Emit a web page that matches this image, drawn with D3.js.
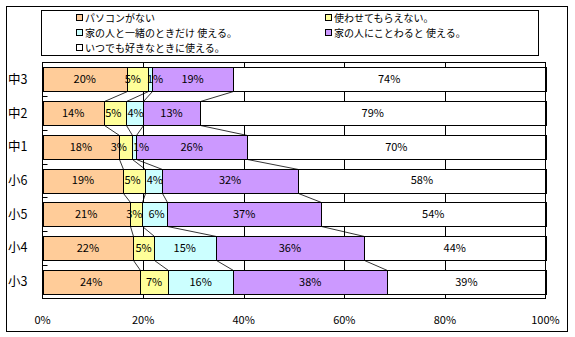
<!DOCTYPE html>
<html>
<head>
<meta charset="utf-8">
<script src="https://cdn.jsdelivr.net/npm/d3@7"></script>
<style>
  html, body { margin: 0; padding: 0; background: #fff; }
  svg { display: block; }
  text { font-family: "Noto Sans CJK JP", "Noto Sans", sans-serif; fill: #000; }
</style>
</head>
<body>
<svg id="chart" width="575" height="337"></svg>
<script>
// ---- data (top to bottom as displayed) ----
const categories = ["中3", "中2", "中1", "小6", "小5", "小4", "小3"];
const seriesNames = [
  "パソコンがない",
  "使わせてもらえない。",
  "家の人と一緒のときだけ 使える。",
  "家の人にことわると 使える。",
  "いつでも好きなときに使える。"
];
const noPC        = [20, 14, 18, 19, 21, 22, 24];
const notAllowed  = [5, 5, 3, 5, 3, 5, 7];
const withFamily  = [1, 4, 1, 4, 6, 15, 16];
const askFamily   = [19, 13, 26, 32, 37, 36, 38];
const anytime     = [74, 79, 70, 58, 54, 44, 39];
const xTicks = [0, 0.2, 0.4, 0.6, 0.8, 1.0];
const colors = ["#FFCC99", "#FFFF99", "#CCFFFF", "#CC99FF", "#FFFFFF"];

const seriesValues = [noPC, notAllowed, withFamily, askFamily, anytime];
const keys = seriesNames;
const rows = categories.map((c, i) => {
  const r = { cat: c };
  keys.forEach((k, s) => r[k] = seriesValues[s][i]);
  return r;
});

const svg = d3.select("#chart");

// outer frame
svg.append("rect").attr("x", 6.5).attr("y", 6.5).attr("width", 561).attr("height", 325)
  .attr("fill", "#fff").attr("stroke", "#000").attr("stroke-width", 1);

// scales
const plot = { left: 42.5, right: 545.5, top: 62.5, bottom: 298.5 };
const x = d3.scaleLinear().domain([0, 1]).range([plot.left, plot.right]);
const y = d3.scaleBand().domain(categories).range([plot.top, plot.bottom])
  .paddingInner(0.29).paddingOuter(0.145);
const stack = d3.stack().keys(keys).offset(d3.stackOffsetExpand);
const stacked = stack(rows);

// plot background
svg.append("rect").attr("x", plot.left).attr("y", plot.top)
  .attr("width", plot.right - plot.left).attr("height", plot.bottom - plot.top)
  .attr("fill", "#fff");

// vertical gridlines
svg.append("g").selectAll("line").data(xTicks.slice(1, -1)).join("line")
  .attr("x1", d => Math.round(x(d)) + 0.5).attr("x2", d => Math.round(x(d)) + 0.5)
  .attr("y1", plot.top).attr("y2", plot.bottom)
  .attr("stroke", "#000").attr("stroke-width", 1);

// bars
const gBars = svg.append("g");
stacked.forEach((layer, s) => {
  gBars.append("g").selectAll("rect").data(layer).join("rect")
    .attr("x", d => Math.round(x(d[0])) + 0.5)
    .attr("y", d => Math.round(y(d.data.cat)) + 0.5)
    .attr("width", d => Math.max(0, Math.round(x(d[1])) - Math.round(x(d[0]))))
    .attr("height", Math.round(y.bandwidth()))
    .attr("fill", colors[s]).attr("stroke", "#000").attr("stroke-width", 1);
});

// series lines
const gSeries = svg.append("g");
for (let s = 0; s < keys.length - 1; s++) {
  const layer = stacked[s];
  for (let i = 0; i < categories.length - 1; i++) {
    const a = layer[i], b = layer[i + 1];
    gSeries.append("line")
      .attr("x1", Math.round(x(a[1])) + 0.5)
      .attr("y1", Math.round(y(a.data.cat)) + Math.round(y.bandwidth()) + 0.5)
      .attr("x2", Math.round(x(b[1])) + 0.5)
      .attr("y2", Math.round(y(b.data.cat)) + 0.5)
      .attr("stroke", "#000").attr("stroke-width", 0.8);
  }
}

// plot border
svg.append("rect").attr("x", plot.left).attr("y", plot.top)
  .attr("width", plot.right - plot.left).attr("height", plot.bottom - plot.top)
  .attr("fill", "none").attr("stroke", "#000").attr("stroke-width", 1);

// category axis ticks (inside)
const bounds = d3.range(1, categories.length).map(i => plot.top + y.step() * i - (y.step() - y.bandwidth()) * 0 );
svg.append("g").selectAll("line").data(d3.range(1, categories.length)).join("line")
  .attr("x1", plot.left).attr("x2", plot.left + 5)
  .attr("y1", i => Math.round(y(categories[i]) - y.step() * y.paddingInner() / 2) + 0.5)
  .attr("y2", i => Math.round(y(categories[i]) - y.step() * y.paddingInner() / 2) + 0.5)
  .attr("stroke", "#000").attr("stroke-width", 1);

// category labels
svg.append("g").selectAll("text").data(categories).join("text")
  .attr("x", 8).attr("y", d => y(d) + y.bandwidth() / 2)
  .attr("dy", "0.36em").attr("font-size", 12.5).text(d => d);

// x tick labels
svg.append("g").selectAll("text").data(xTicks).join("text")
  .attr("x", d => x(d)).attr("y", 320).attr("dy", "0.36em")
  .attr("text-anchor", "middle").attr("font-size", 11)
  .text(d => d3.format(".0%")(d));

// data labels with simple overlap relaxation
const gLabels = svg.append("g");
categories.forEach((c, i) => {
  const items = stacked.map((layer, s) => {
    const d = layer[i];
    const t = gLabels.append("text")
      .attr("y", y(c) + y.bandwidth() / 2).attr("dy", "0.36em")
      .attr("text-anchor", "middle").attr("font-size", 11)
      .text(seriesValues[s][i] + "%");
    const w = t.node().getComputedTextLength();
    return { t, cx: (x(d[0]) + x(d[1])) / 2, w };
  });
  const gap = 6;
  for (let iter = 0; iter < 50; iter++) {
    for (let k = 0; k < items.length - 1; k++) {
      const a = items[k], b = items[k + 1];
      const need = a.w / 2 + b.w / 2 + gap;
      const have = b.cx - a.cx;
      if (have < need) {
        const push = (need - have) / 2;
        a.cx -= push; b.cx += push;
      }
    }
  }
  items.forEach(it => it.t.attr("x", it.cx));
});

// legend
const lg = svg.append("g");
lg.append("rect").attr("x", 41.5).attr("y", 10.5).attr("width", 497).attr("height", 45)
  .attr("fill", "#fff").attr("stroke", "#000").attr("stroke-width", 1);
const legendPos = [
  { x: 76, y: 18 }, { x: 325, y: 18 },
  { x: 76, y: 33 }, { x: 325, y: 33 },
  { x: 76, y: 48 }
];
keys.forEach((k, s) => {
  const p = legendPos[s];
  lg.append("rect").attr("x", p.x + 0.5).attr("y", p.y - 3.5).attr("width", 6).attr("height", 6)
    .attr("fill", colors[s]).attr("stroke", "#000").attr("stroke-width", 1);
  lg.append("text").attr("x", p.x + 9).attr("y", p.y).attr("dy", "0.36em")
    .attr("font-size", 10).text(k);
});
</script>
</body>
</html>
